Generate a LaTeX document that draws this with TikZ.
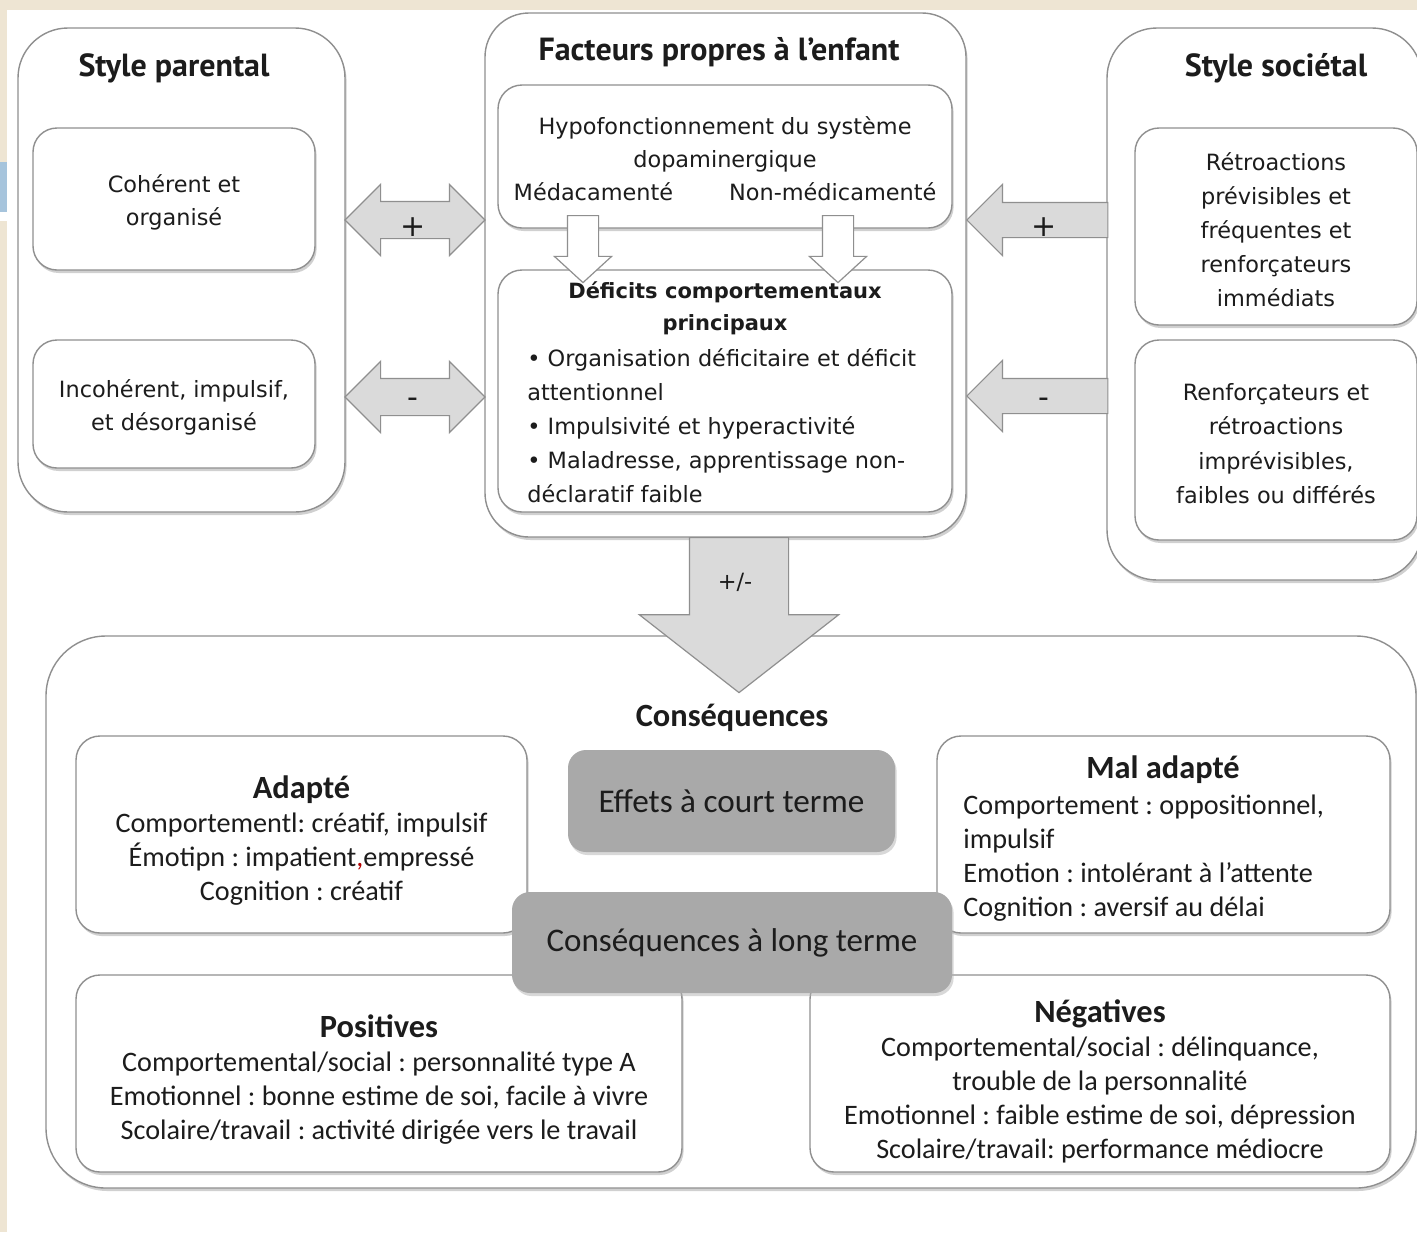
\documentclass[tikz,border=0pt]{standalone}
\usepackage{fontspec}
\setmainfont{Carlito}
\newfontfamily\grande{DejaVu Sans}
\newfontfamily\gill{PT Sans}
\usetikzlibrary{positioning, shapes.arrows, shadows}

\definecolor{papier}{HTML}{EEE5D3}
\definecolor{onglet}{HTML}{A6C4DC}
\definecolor{trait}{HTML}{8F8F8F}
\definecolor{encre}{HTML}{1C1C1C}
\definecolor{fleche}{HTML}{DADADA}
\definecolor{fonce}{HTML}{A9A9A9}

% ligne vide en tete, pour descendre un peu le texte
\newcommand{\decale}[1]{\mbox{}\\[#1]}

\begin{document}
\frenchspacing
\begin{tikzpicture}[x=0.5pt, y=-0.5pt,
 every node/.style = {text=encre, inner sep=0pt, align=center},
       cadre/.style = {rectangle, rounded corners=#1, draw=trait, line width=0.7pt,
                      fill=white, drop shadow={shadow xshift=0.8pt, shadow yshift=-1.5pt,
                      fill=black!30, opacity=0.6}},
     cadre/.default = 12pt,
        gris/.style = {rectangle, rounded corners=9pt, fill=fonce, draw=none,
                      drop shadow={shadow xshift=0.8pt, shadow yshift=-1.5pt,
                      fill=black!30, opacity=0.5}},
       titre/.style = {font=\gill\bfseries\fontsize{16}{18}\selectfont},
        haut/.style = {font=\grande\fontsize{11.2}{16.5}\selectfont},
         bas/.style = {font=\fontsize{14.1}{17}\selectfont},
        gras/.style = {font=\bfseries\fontsize{16.2}{18}\selectfont},
      signe/.style = {font=\grande\fontsize{15}{16}\selectfont},
     dfleche/.style = {double arrow, draw=trait, fill=fleche, line width=0.6pt,
                      minimum width=35pt, minimum height=70pt, inner sep=9pt,
                      double arrow head extend=8.5pt},
     sfleche/.style = {single arrow, draw=trait, fill=fleche, line width=0.6pt,
                      minimum width=35pt, minimum height=70.5pt, inner sep=8.5pt,
                      single arrow head extend=9pt, shape border rotate=180},
     bfleche/.style = {single arrow, draw=trait, fill=white, line width=0.6pt,
                      minimum width=28pt, minimum height=33.5pt, inner sep=7.5pt,
                      single arrow head extend=6.5pt, single arrow tip angle=95,
                      shape border rotate=270}
                        ]
\useasboundingbox (0,0) rectangle (1417,1232);
% fond
\fill[papier] (0,0) rectangle (1417,1232);
\fill[white] (7,10) rectangle (1417,1232);
\fill[onglet] (0,162) rectangle (7,212);
\fill[white] (0,212) rectangle (7,221);

% style parental
\node (parental) [cadre=25pt, minimum width=163.5pt, minimum height=242pt] at (181.5,270) {};
\node (tparental) [titre] at (174,68) {Style parental};
\node (coherent) [cadre, haut, minimum width=141pt, minimum height=71pt] at (174,199) {\decale{-4pt}Cohérent et\\organisé};
\node (incoherent) [cadre, haut, minimum width=141pt, minimum height=64pt] at (174,404) {\decale{-4pt}Incohérent, impulsif,\\et désorganisé};

% facteurs propres a l'enfant
\node (enfant) [cadre=22pt, minimum width=240.5pt, minimum height=262pt] at (725.5,275) {};
\node (tenfant) [titre] at (719,52) {Facteurs propres à l’enfant};
\node (hypo) [cadre, haut, minimum width=227pt, minimum height=71.5pt] at (725,156.5) {\decale{-5pt}Hypofonctionnement du système\\dopaminergique\\Médacamenté\hspace{28pt}Non-médicamenté};
\node (deficits) [cadre, minimum width=227pt, minimum height=121pt] at (725,391) {};

% style societal
\node (societal) [cadre=25pt, minimum width=157.5pt, minimum height=276pt] at (1264.5,304) {};
\node (tsocietal) [titre] at (1276,68) {Style sociétal};
\node (retro) [cadre, haut, minimum width=141pt, minimum height=98.5pt, font=\grande\fontsize{11.2}{17.1}\selectfont] at (1276,226.5) {\decale{-5pt}Rétroactions\\prévisibles et\\fréquentes et\\renforçateurs\\immédiats};
\node (renfo) [cadre, haut, minimum width=141pt, minimum height=100pt, font=\grande\fontsize{11.2}{17.1}\selectfont] at (1276,440) {\decale{-5pt}Renforçateurs et\\rétroactions\\imprévisibles,\\faibles ou différés};

% fleches du haut
\node (medfleche) [bfleche, anchor=tail] at (583,215) {};
\node (nonmedfleche) [bfleche, anchor=tail] at (838,215) {};
\node (tdeficits) [font=\grande\bfseries\fontsize{10.5}{16}\selectfont] at (725,308) {Déficits comportementaux\\principaux};
\node (ldeficits) [font=\grande\fontsize{11.2}{17}\selectfont, anchor=north west, align=left] at (527,348) {• Organisation déficitaire et déficit\\attentionnel\\• Impulsivité et hyperactivité\\• Maladresse, apprentissage non-\\déclaratif faible};

\node (aplus) [dfleche] at (415,220) {};
\node (aminus) [dfleche] at (415,397) {};
\node (splus) [sfleche, anchor=tip] at (966,220) {};
\node (sminus) [sfleche, anchor=tip] at (966,396) {};
\node (laplus) [signe] at (413,227) {+};
\node (laminus) [signe] at (413,403) {-};
\node (lsplus) [signe] at (1044,227) {+};
\node (lsminus) [signe] at (1044,403) {-};

% consequences
\node (consequences) [cadre=30pt, minimum width=685pt, minimum height=276pt] at (731,912) {};
\node (pm) [single arrow, draw=trait, fill=fleche, line width=0.6pt, minimum width=99pt,
            minimum height=77.5pt, inner sep=24.5pt, single arrow head extend=25pt,
            single arrow tip angle=104, shape border rotate=270, anchor=tail] at (739,537) {};
\node (lpm) [haut] at (735,582) {+/-};
\node (tconsequences) [gras] at (732,718) {Conséquences};

\node (adapte) [cadre, bas, minimum width=225.5pt, minimum height=98.5pt] at (301.5,834.5) {\decale{0pt}{\bfseries\fontsize{16.2}{19}\selectfont Adapté}\\Comportementl: créatif, impulsif\\Émotipn : impatient{\color{red!70!black},}empressé\\Cognition : créatif};
\node (maladapte) [cadre, minimum width=226.5pt, minimum height=98.5pt] at (1163.5,834.5) {};
\node (tmaladapte) [gras] at (1163,770) {Mal adapté};
\node (lmaladapte) [bas, anchor=north west, align=left] at (963,795) {Comportement : oppositionnel,\\impulsif\\Emotion : intolérant à l’attente\\Cognition : aversif au délai};
\node (positives) [cadre, bas, minimum width=303pt, minimum height=98.5pt] at (379,1073.5) {\decale{0pt}{\bfseries\fontsize{16.2}{19}\selectfont Positives}\\Comportemental/social : personnalité type A\\Emotionnel : bonne estime de soi, facile à vivre\\Scolaire/travail : activité dirigée vers le travail};
\node (negatives) [cadre, bas, minimum width=290pt, minimum height=98.5pt] at (1100,1073.5) {\decale{2pt}{\bfseries\fontsize{16.2}{19}\selectfont Négatives}\\Comportemental/social : délinquance,\\trouble de la personnalité\\Emotionnel : faible estime de soi, dépression\\Scolaire/travail: performance médiocre};

\node (effets) [gris, minimum width=163.5pt, minimum height=51pt, font=\fontsize{16.6}{18}\selectfont] at (731.5,801) {Effets à court terme};
\node (longterme) [gris, minimum width=220pt, minimum height=50.5pt, font=\fontsize{16.5}{18}\selectfont] at (732,942.5) {Conséquences à long terme};
\end{tikzpicture}
\end{document}
